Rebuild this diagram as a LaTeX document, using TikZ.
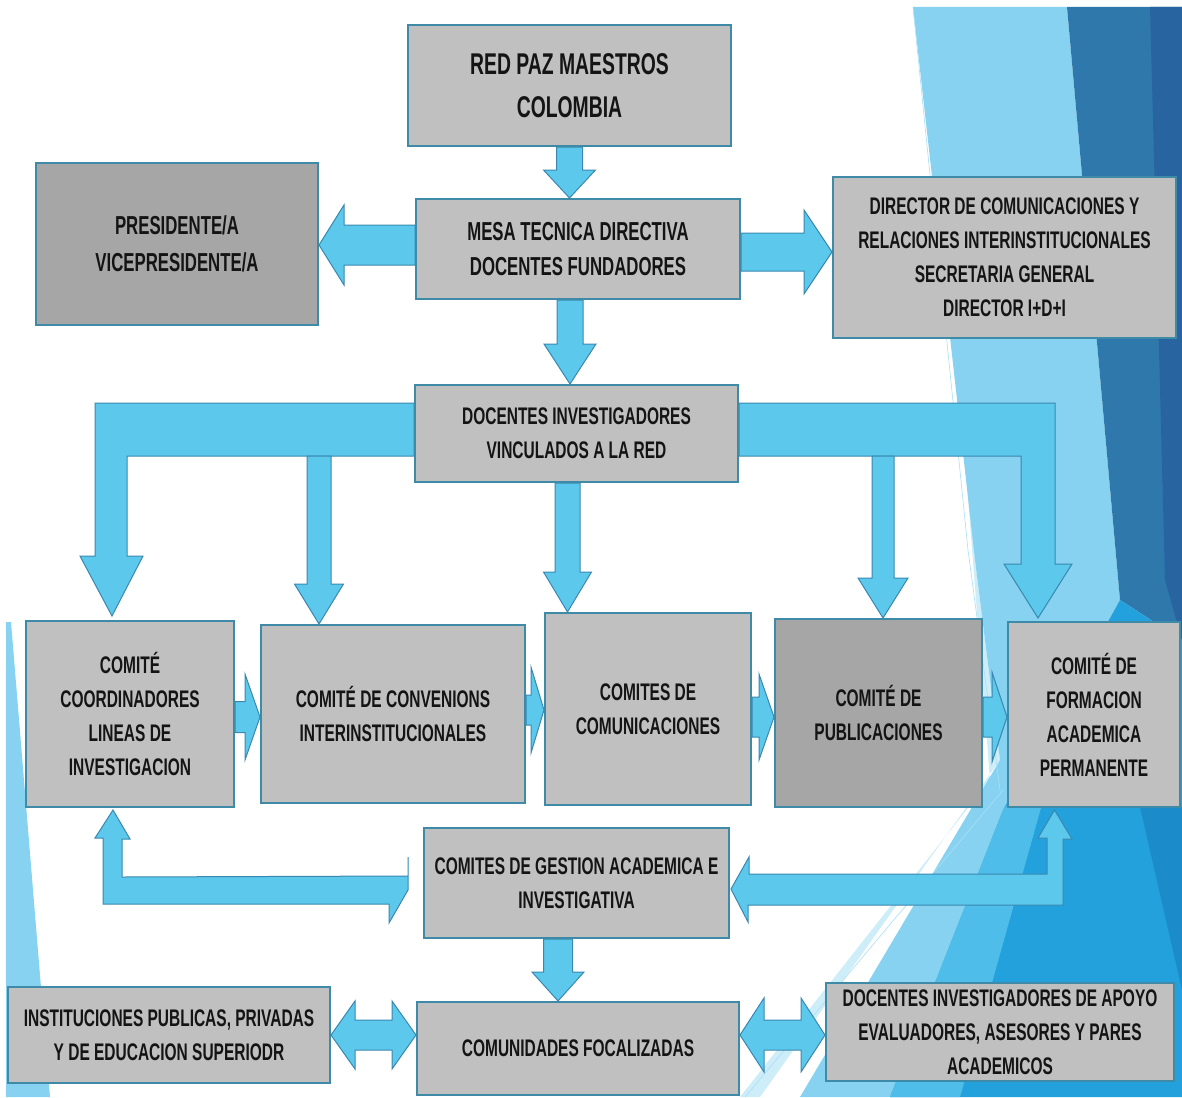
\documentclass[tikz,border=0pt]{standalone}
\usepackage{fontspec}
\setmainfont{Liberation Sans}[FakeStretch=0.645]
\usepackage{xcolor}
\usepackage{tikz}
\usetikzlibrary{calc,positioning}

\definecolor{boxgray}{HTML}{C0C0C0}
\definecolor{boxdark}{HTML}{A6A6A6}
\definecolor{boxline}{HTML}{3F8AA7}
\definecolor{arrowfill}{HTML}{5BC8EC}
\definecolor{arrowline}{HTML}{3A88B0}
\definecolor{txt}{HTML}{141414}
\definecolor{facetlight}{HTML}{86D2F0}
\definecolor{facetpale}{HTML}{CDEDF9}
\definecolor{facetdark}{HTML}{2F78AB}
\definecolor{facetdeep}{HTML}{2865A0}
\definecolor{facetbright}{HTML}{22A1DC}
\definecolor{facetmid}{HTML}{4FBDE9}
\definecolor{facetsea}{HTML}{1B8CC9}

\pgfdeclarelayer{deco}
\pgfdeclarelayer{flow}
\pgfsetlayers{deco,flow,main}

\tikzset{
  orgbox/.style={draw=boxline, line width=2pt, fill=boxgray, inner sep=0pt, align=center,
    text=txt, font=\bfseries\fontsize{24}{34}\selectfont},
  darkbox/.style={orgbox, fill=boxdark},
  flowarrow/.style={fill=arrowfill, draw=arrowline, line width=1pt, line join=miter},
}

% block arrow: start, tip, shaft half width, head half width, head length
\newcommand{\blockarrow}[5]{%
  \coordinate (bh) at ($(#2)!#5!(#1)$);
  \filldraw[flowarrow] ($(#1)!#3!90:(#2)$) -- ($(bh)!#3!90:(#2)$) -- ($(bh)!#4!90:(#2)$) -- (#2)
    -- ($(bh)!#4!-90:(#2)$) -- ($(bh)!#3!-90:(#2)$) -- ($(#1)!#3!-90:(#2)$) -- cycle;}
% block arrow with two heads
\newcommand{\twowayarrow}[5]{%
  \coordinate (bh1) at ($(#1)!#5!(#2)$);
  \coordinate (bh2) at ($(#2)!#5!(#1)$);
  \filldraw[flowarrow] (#1) -- ($(bh1)!#4!90:(#2)$) -- ($(bh1)!#3!90:(#2)$) -- ($(bh2)!#3!90:(#2)$)
    -- ($(bh2)!#4!90:(#2)$) -- (#2) -- ($(bh2)!#4!-90:(#2)$) -- ($(bh2)!#3!-90:(#2)$)
    -- ($(bh1)!#3!-90:(#2)$) -- ($(bh1)!#4!-90:(#2)$) -- cycle;}

\begin{document}
\begin{tikzpicture}[x=1pt, y=-1pt]
  \useasboundingbox (0,0) rectangle (1182,1097);

  \begin{pgfonlayer}{deco}
    \fill[white] (0,0) rectangle (1182,1097);
    \fill[facetlight] (6,622) -- (11,622) -- (50,1097) -- (6,1097) -- cycle;
    \fill[facetpale] (955,330) -- (975,560) -- (1000,760) -- (760,1097) -- (740,1097) -- (990,780) -- cycle;
    \fill[facetlight] (913,7) -- (1067,7) -- (1120,600) -- (1003,810) -- (890,1097) -- (800,1097) -- (1000,760) -- (975,560) -- cycle;
    \fill[facetdark] (1067,7) -- (1182,7) -- (1182,640) -- (1120,600) -- cycle;
    \fill[facetdeep] (1150,7) -- (1182,7) -- (1182,640) -- (1165,580) -- cycle;
    \fill[facetbright] (1120,600) -- (1182,640) -- (1182,1097) -- (890,1097) -- (1003,810) -- cycle;
    \fill[facetmid] (1003,810) -- (1060,740) -- (960,1097) -- (890,1097) -- cycle;
    \fill[facetsea] (1140,807) -- (1182,807) -- (1182,990) -- cycle;
    \draw[facetlight!70!white, line width=0.6pt] (913,7) -- (968,550) -- (1000,790);
    \draw[facetlight!70!white, line width=0.6pt] (1003,790) -- (745,1097);
  \end{pgfonlayer}

  \node[orgbox, minimum width=323pt, minimum height=121pt, font=\bfseries\fontsize{30}{43}\selectfont] (red) at (569.5,85.5) {RED PAZ MAESTROS\\COLOMBIA};
  \node[orgbox, minimum width=324pt, minimum height=100pt, font=\bfseries\fontsize{26}{35}\selectfont] (mesa) at (578,249) {MESA TECNICA DIRECTIVA\\DOCENTES FUNDADORES};
  \node[darkbox, minimum width=282pt, minimum height=162pt, font=\bfseries\fontsize{26}{37}\selectfont] (pres) at (177,244) {PRESIDENTE/A\\VICEPRESIDENTE/A};
  \node[orgbox, minimum width=343pt, minimum height=161pt] (dir) at (1004.5,257.5) {DIRECTOR DE COMUNICACIONES Y\\RELACIONES INTERINSTITUCIONALES\\SECRETARIA GENERAL\\DIRECTOR I+D+I};
  \node[orgbox, minimum width=323pt, minimum height=97pt] (doc) at (576.5,433.5) {DOCENTES INVESTIGADORES\\VINCULADOS A LA RED};
  \node[orgbox, minimum width=208pt, minimum height=186pt] (c1) at (130,714) {COMITÉ\\COORDINADORES\\LINEAS DE\\INVESTIGACION};
  \node[orgbox, minimum width=264pt, minimum height=178pt] (c2) at (393,714) {COMITÉ DE CONVENIONS\\INTERINSTITUCIONALES};
  \node[orgbox, minimum width=206pt, minimum height=192pt] (c3) at (648,709) {COMITES DE\\COMUNICACIONES};
  \node[darkbox, minimum width=207pt, minimum height=188pt] (c4) at (878.5,713) {COMITÉ DE\\PUBLICACIONES};
  \node[orgbox, minimum width=172pt, minimum height=185pt] (c5) at (1094,714.5) {COMITÉ DE\\FORMACION\\ACADEMICA\\PERMANENTE};
  \node[orgbox, minimum width=305pt, minimum height=110pt] (ges) at (576.5,883) {COMITES DE GESTION ACADEMICA E\\INVESTIGATIVA};
  \node[orgbox, minimum width=322pt, minimum height=93pt] (com) at (578,1048.5) {COMUNIDADES FOCALIZADAS};
  \node[orgbox, minimum width=322pt, minimum height=96pt] (inst) at (169,1035) {INSTITUCIONES PUBLICAS, PRIVADAS\\Y DE EDUCACION SUPERIODR};
  \node[orgbox, minimum width=348pt, minimum height=98pt] (apo) at (1000,1032) {DOCENTES INVESTIGADORES DE APOYO\\EVALUADORES, ASESORES Y PARES\\ACADEMICOS};

  \begin{pgfonlayer}{flow}
    \coordinate (t1) at (red.south |- mesa.north);
    \blockarrow{red.south}{t1}{13pt}{26pt}{28pt}
    \coordinate (s2) at ($(mesa.west)+(0,-4)$);
    \coordinate (t2) at (s2 -| pres.east);
    \blockarrow{s2}{t2}{20pt}{40pt}{25pt}
    \coordinate (s3) at ($(mesa.east)+(0,3)$);
    \coordinate (t3) at (s3 -| dir.west);
    \blockarrow{s3}{t3}{19pt}{42pt}{28pt}
    \coordinate (s4) at ($(mesa.south)+(-8,0)$);
    \coordinate (t4) at (s4 |- doc.north);
    \blockarrow{s4}{t4}{13pt}{26pt}{40pt}

    % branches of docentes
    \coordinate (ul) at ($(doc.north west)+(0,19)$);
    \coordinate (ll) at ($(doc.north west)+(0,72)$);
    \coordinate (tl) at ($(c1.north)+(-18,-4)$);
    \filldraw[flowarrow] (ul) -- ++(-319,0) -- ++(0,153) -- ++(-15,0) -- (tl) -- ++(31,-60)
      -- ++(-16,0) -- ++(0,-100) -- (ll) -- cycle;
    \coordinate (ur) at ($(doc.north east)+(0,19)$);
    \coordinate (lr) at ($(doc.north east)+(0,72)$);
    \coordinate (tr) at ($(c5.north)+(-56,-3)$);
    \filldraw[flowarrow] (ur) -- ++(316,0) -- ++(0,161) -- ++(17,0) -- (tr) -- ++(-34,-54)
      -- ++(17,0) -- ++(0,-108) -- (lr) -- cycle;
    \coordinate (s6) at ($(ll -| c2.north)+(-74,0)$);
    \coordinate (t6) at (s6 |- c2.north);
    \blockarrow{s6}{t6}{12pt}{24.5pt}{40pt}
    \coordinate (s5) at ($(doc.south)+(-9,0)$);
    \coordinate (t5) at (s5 |- c3.north);
    \blockarrow{s5}{t5}{12.5pt}{24pt}{40pt}
    \coordinate (s7) at ($(lr -| c4.north)+(4.5,0)$);
    \coordinate (t7) at (s7 |- c4.north);
    \blockarrow{s7}{t7}{11pt}{25pt}{40pt}

    % row of comites
    \coordinate (s8) at ($(c1.east)+(0,3)$);
    \coordinate (t8) at (s8 -| c2.west);
    \blockarrow{s8}{t8}{15.5pt}{43pt}{15pt}
    \coordinate (s9) at ($(c2.east)+(0,-4)$);
    \coordinate (t9) at (s9 -| c3.west);
    \blockarrow{s9}{t9}{15pt}{43pt}{13pt}
    \coordinate (s10) at ($(c3.east)+(0,8)$);
    \coordinate (t10) at (s10 -| c4.west);
    \blockarrow{s10}{t10}{20pt}{43pt}{15pt}
    \coordinate (s11) at ($(c4.east)+(0,4)$);
    \coordinate (t11) at (s11 -| c5.west);
    \blockarrow{s11}{t11}{20pt}{45pt}{15pt}

    % gestion brackets
    \coordinate (bl) at ($(c1.south)+(-17,2)$);
    \coordinate (gl) at ($(ges.west)+(-15,7)$);
    \filldraw[flowarrow] (bl) -- ++(17,29) -- ++(-8,0) -- ++(0,38) -- (gl |- 0,876) -- ++(0,-19)
      -- (gl) -- ++(-19,33) -- ++(0,-19) -- ++(-286,0) -- ++(0,-66) -- ++(-8,0) -- cycle;
    \coordinate (br) at ($(c5.south)+(-39.5,2)$);
    \coordinate (gr) at ($(ges.east)+(1,6)$);
    \filldraw[flowarrow] (br) -- ++(17.5,29) -- ++(-9,0) -- ++(0,66) -- ++(-315,0) -- ++(0,17)
      -- (gr) -- ++(18,-32) -- ++(0,17) -- ++(298,0) -- ++(0,-36) -- ++(-9,0) -- cycle;
    \coordinate (s12) at ($(ges.south)+(-18.5,0)$);
    \coordinate (t12) at (s12 |- com.north);
    \blockarrow{s12}{t12}{14.5pt}{26pt}{29pt}

    % comunidades
    \coordinate (s13) at (inst.east);
    \coordinate (t13) at (s13 -| com.west);
    \twowayarrow{s13}{t13}{15pt}{34pt}{24pt}
    \coordinate (s14) at ($(com.east)+(0,-13.5)$);
    \coordinate (t14) at (s14 -| apo.west);
    \twowayarrow{s14}{t14}{15pt}{37pt}{24pt}
  \end{pgfonlayer}
\end{tikzpicture}
\end{document}
